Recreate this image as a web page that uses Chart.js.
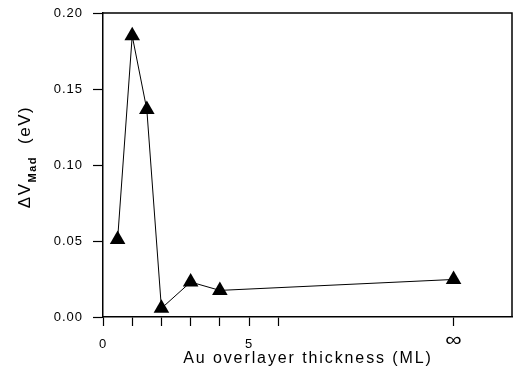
<!DOCTYPE html>
<html><head><meta charset="utf-8">
<script src="https://cdn.jsdelivr.net/npm/chart.js@4.4.0/dist/chart.umd.min.js"></script>
<style>html,body{margin:0;padding:0;background:#fff}#wrap{width:515px;height:373px}</style>
</head><body><div id="wrap"><canvas id="c" width="515" height="373"></canvas></div>
<script>
const thickness = [0.5, 1, 1.5, 2, 3, 4, 12];
const deltaVMad = [0.051, 0.185, 0.1365, 0.0057, 0.023, 0.0175, 0.0247];
const xTickValues = [0, 1, 2, 3, 4, 5, 6, 12];
const xTickLabels = {0: '0', 5: '5'};
const infinityValue = 12;
const infinityLabel = '\u221E';
const yTitleMain = '\u0394V';
const yTitleSub = 'Mad';
const yTitleUnit = '(eV)';
const xTitle = 'Au overlayer thickness (ML)';

const FONT = 'Arial, "Liberation Sans", sans-serif';

const spacingPlugin = {
  id: 'spacing',
  beforeInit(chart){ chart.ctx.letterSpacing = '1px'; },
  beforeLayout(chart){ chart.ctx.letterSpacing = '1px'; },
  beforeDraw(chart){ chart.ctx.letterSpacing = '1px'; }
};
const framePlugin = {
  id: 'frame',
  afterDatasetsDraw(chart){
    const {ctx, chartArea:a} = chart;
    ctx.save();
    ctx.strokeStyle = '#000'; ctx.lineWidth = 1.5;
    ctx.beginPath();
    ctx.moveTo(a.left, a.top); ctx.lineTo(a.right, a.top); ctx.lineTo(a.right, a.bottom);
    ctx.stroke();
    ctx.fillStyle = '#000';
    // infinity tick label (slightly flattened like the original glyph)
    ctx.save();
    ctx.letterSpacing = '0px';
    ctx.font = '23px ' + FONT;
    ctx.textAlign = 'center';
    ctx.textBaseline = 'middle';
    ctx.translate(chart.scales.x.getPixelForValue(infinityValue), a.bottom + 24);
    ctx.scale(1, 0.85);
    ctx.fillText(infinityLabel, 0, 0);
    ctx.restore();
    // x title drawn with letter spacing
    ctx.textAlign = 'center';
    ctx.textBaseline = 'middle';
    ctx.letterSpacing = '1.9px';
    ctx.font = '16px ' + FONT;
    ctx.fillText(xTitle, (183 + 433) / 2, 359);
    // y title with subscript
    ctx.textAlign = 'left';
    ctx.translate(30, 157);
    ctx.rotate(-Math.PI/2);
    ctx.textBaseline = 'alphabetic';
    ctx.letterSpacing = '1.5px';
    ctx.font = '17px ' + FONT;
    let w = ctx.measureText(yTitleMain).width;
    ctx.font = 'bold 11px ' + FONT; w += ctx.measureText(yTitleSub).width + 12;
    ctx.font = '17px ' + FONT; w += ctx.measureText(yTitleUnit).width;
    let x = -w/2;
    ctx.font = '17px ' + FONT;
    ctx.fillText(yTitleMain, x, 0);
    x += ctx.measureText(yTitleMain).width;
    ctx.font = 'bold 11px ' + FONT;
    ctx.fillText(yTitleSub, x, 6);
    x += ctx.measureText(yTitleSub).width + 12;
    ctx.font = '17px ' + FONT;
    ctx.fillText(yTitleUnit, x, 0);
    ctx.restore();
  }
};

new Chart(document.getElementById('c'), {
  type: 'scatter',
  data: { datasets: [{
    data: thickness.map((t, i) => ({x: t, y: deltaVMad[i]})),
    showLine: true,
    borderColor: '#000', borderWidth: 1,
    pointStyle: 'triangle', pointRadius: 9, pointHoverRadius: 9,
    pointBackgroundColor: '#000', pointBorderColor: '#000', pointBorderWidth: 0
  }]},
  options: {
    responsive: false, animation: false, devicePixelRatio: 1,
    layout: { autoPadding: false, padding: {left: 0, right: 3, top: 13, bottom: 0} },
    plugins: { legend: {display: false}, tooltip: {enabled: false} },
    scales: {
      x: {
        type: 'linear', min: 0, max: 14,
        afterBuildTicks(s){ s.ticks = xTickValues.map(v => ({value: v})); },
        afterFit(s){ s.height = 56; s.paddingLeft = 0; s.paddingRight = 0; },
        ticks: { autoSkip: false, maxRotation: 0, padding: 11, color: '#000',
          font: {family: FONT, size: 13},
          callback: v => (xTickLabels[v] !== undefined ? xTickLabels[v] : '') },
        grid: { drawOnChartArea: false, tickLength: 9, color: '#000', tickWidth: 1.2 },
        border: { display: true, color: '#000', width: 1.5 }
      },
      y: {
        min: 0, max: 0.2,
        afterFit(s){ s.width = 103; s.paddingTop = 0; s.paddingBottom = 0; },
        ticks: { stepSize: 0.05, padding: 10, color: '#000',
          font: {family: FONT, size: 13},
          callback: v => v.toFixed(2) },
        grid: { drawOnChartArea: false, tickLength: 10, color: '#000', tickWidth: 1.2 },
        border: { display: true, color: '#000', width: 1.5 }
      }
    }
  },
  plugins: [spacingPlugin, framePlugin]
});
</script>
</body></html>
